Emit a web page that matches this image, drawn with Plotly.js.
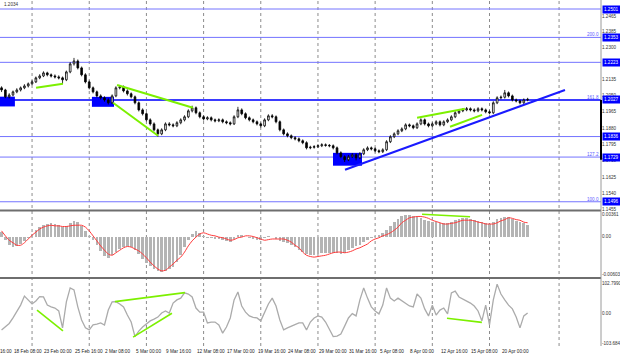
<!DOCTYPE html>
<html>
<head>
<meta charset="utf-8">
<script src="https://cdn.plot.ly/plotly-3.0.1.min.js"></script>
<style>html,body{margin:0;padding:0;background:#fff;}#chart{width:620px;height:357px;}</style>
</head>
<body>
<div id="chart"></div>
<script>
// ---- DATA ----
// bar positions are counted in H4 bars from 18 Feb 08:00; each candle below spans 8 hours
const firstBar = -6;
const barStep = 2;

const openP = [1.2090,1.2079,1.2043,1.2053,1.2069,1.2079,1.2090,1.2100,1.2111,1.2121,
1.2142,1.2152,1.2168,1.2158,1.2152,1.2147,1.2142,1.2132,1.2173,1.2215,
1.2230,1.2194,1.2158,1.2121,1.2090,1.2069,1.2048,1.2038,1.2027,1.2012,
1.2048,1.2090,1.2095,1.2074,1.2059,1.2043,1.2012,1.1975,1.1955,1.1923,
1.1902,1.1871,1.1850,1.1871,1.1902,1.1897,1.1892,1.1908,1.1923,1.1939,
1.1970,1.1986,1.1960,1.1939,1.1928,1.1934,1.1923,1.1918,1.1923,1.1913,
1.1908,1.1902,1.1939,1.1975,1.1955,1.1934,1.1923,1.1913,1.1902,1.1892,
1.1923,1.1944,1.1939,1.1913,1.1871,1.1850,1.1840,1.1830,1.1824,1.1814,
1.1804,1.1777,1.1780,1.1783,1.1788,1.1793,1.1790,1.1788,1.1777,1.1751,
1.1731,1.1715,1.1731,1.1741,1.1725,1.1746,1.1767,1.1777,1.1772,1.1762,
1.1757,1.1767,1.1809,1.1835,1.1850,1.1866,1.1876,1.1897,1.1892,1.1882,
1.1902,1.1923,1.1902,1.1892,1.1902,1.1913,1.1897,1.1913,1.1923,1.1939,
1.1960,1.1970,1.1975,1.1981,1.1975,1.1970,1.1981,1.1975,1.1965,1.1960,
1.2012,1.2038,1.2041,1.2064,1.2048,1.2027,1.2022,1.2012,1.2027];

const highP = [1.2098,1.2085,1.2062,1.2076,1.2088,1.2097,1.2109,1.2118,1.2130,1.2149,
1.2161,1.2176,1.2174,1.2165,1.2160,1.2155,1.2149,1.2180,1.2224,1.2246,
1.2238,1.2201,1.2166,1.2128,1.2097,1.2076,1.2056,1.2046,1.2035,1.2056,
1.2098,1.2105,1.2102,1.2082,1.2066,1.2050,1.2019,1.1983,1.1962,1.1931,
1.1910,1.1878,1.1879,1.1910,1.1911,1.1905,1.1916,1.1931,1.1947,1.1978,
1.1997,1.1993,1.1967,1.1946,1.1942,1.1941,1.1930,1.1931,1.1930,1.1920,
1.1915,1.1947,1.1991,1.1983,1.1962,1.1941,1.1930,1.1920,1.1909,1.1931,
1.1952,1.1953,1.1946,1.1920,1.1878,1.1858,1.1847,1.1838,1.1831,1.1821,
1.1811,1.1788,1.1791,1.1796,1.1801,1.1800,1.1797,1.1795,1.1784,1.1759,
1.1738,1.1740,1.1750,1.1748,1.1755,1.1775,1.1785,1.1784,1.1779,1.1769,
1.1775,1.1817,1.1843,1.1858,1.1874,1.1884,1.1905,1.1904,1.1899,1.1910,
1.1931,1.1930,1.1909,1.1910,1.1921,1.1920,1.1921,1.1931,1.1947,1.1968,
1.1978,1.1984,1.1990,1.1988,1.1983,1.1989,1.1988,1.1982,1.1972,1.2020,
1.2046,1.2050,1.2079,1.2071,1.2055,1.2034,1.2029,1.2035,1.2038];

const lowP = [1.2068,1.2036,1.2035,1.2046,1.2062,1.2071,1.2083,1.2092,1.2104,1.2115,
1.2135,1.2146,1.2150,1.2144,1.2139,1.2134,1.2110,1.2125,1.2166,1.2206,
1.2186,1.2150,1.2113,1.2082,1.2061,1.2040,1.2029,1.2018,1.2003,1.2006,
1.2041,1.2082,1.2066,1.2050,1.2035,1.2004,1.1967,1.1946,1.1915,1.1893,
1.1863,1.1835,1.1843,1.1864,1.1889,1.1884,1.1885,1.1900,1.1915,1.1932,
1.1962,1.1952,1.1931,1.1920,1.1921,1.1915,1.1910,1.1911,1.1905,1.1900,
1.1894,1.1896,1.1932,1.1947,1.1926,1.1915,1.1905,1.1894,1.1883,1.1885,
1.1916,1.1931,1.1905,1.1863,1.1842,1.1832,1.1822,1.1816,1.1806,1.1796,
1.1769,1.1770,1.1773,1.1776,1.1781,1.1783,1.1780,1.1769,1.1743,1.1723,
1.1703,1.1708,1.1724,1.1712,1.1718,1.1739,1.1760,1.1764,1.1754,1.1749,
1.1750,1.1760,1.1802,1.1828,1.1843,1.1859,1.1869,1.1884,1.1874,1.1875,
1.1895,1.1894,1.1884,1.1885,1.1895,1.1889,1.1890,1.1906,1.1916,1.1932,
1.1953,1.1963,1.1968,1.1967,1.1962,1.1963,1.1967,1.1957,1.1952,1.1953,
1.2005,1.2030,1.2034,1.2040,1.2019,1.2014,1.2004,1.2006,1.2020];

const closeP = [1.2079,1.2043,1.2053,1.2069,1.2079,1.2090,1.2100,1.2111,1.2121,1.2142,
1.2152,1.2168,1.2158,1.2152,1.2147,1.2142,1.2132,1.2173,1.2215,1.2230,
1.2194,1.2158,1.2121,1.2090,1.2069,1.2048,1.2038,1.2027,1.2012,1.2048,
1.2090,1.2095,1.2074,1.2059,1.2043,1.2012,1.1975,1.1955,1.1923,1.1902,
1.1871,1.1850,1.1871,1.1902,1.1897,1.1892,1.1908,1.1923,1.1939,1.1970,
1.1986,1.1960,1.1939,1.1928,1.1934,1.1923,1.1918,1.1923,1.1913,1.1908,
1.1902,1.1939,1.1975,1.1955,1.1934,1.1923,1.1913,1.1902,1.1892,1.1923,
1.1944,1.1939,1.1913,1.1871,1.1850,1.1840,1.1830,1.1824,1.1814,1.1804,
1.1777,1.1780,1.1783,1.1788,1.1793,1.1790,1.1788,1.1777,1.1751,1.1731,
1.1715,1.1731,1.1741,1.1725,1.1746,1.1767,1.1777,1.1772,1.1762,1.1757,
1.1767,1.1809,1.1835,1.1850,1.1866,1.1876,1.1897,1.1892,1.1882,1.1902,
1.1923,1.1902,1.1892,1.1902,1.1913,1.1897,1.1913,1.1923,1.1939,1.1960,
1.1970,1.1975,1.1981,1.1975,1.1970,1.1981,1.1975,1.1965,1.1960,1.2012,
1.2038,1.2041,1.2064,1.2048,1.2027,1.2022,1.2012,1.2027,1.2030];

const macdMain = [0.0007,-0.0006,-0.0014,-0.0017,-0.0015,-0.0012,-0.0007,-0.0002,0.0004,0.0010,
0.0015,0.0018,0.0020,0.0022,0.0020,0.0018,0.0015,0.0017,0.0022,0.0025,
0.0023,0.0017,0.0009,0.0001,-0.0006,-0.0014,-0.0023,-0.0031,-0.0034,-0.0030,
-0.0025,-0.0020,-0.0017,-0.0015,-0.0017,-0.0022,-0.0028,-0.0036,-0.0042,-0.0047,
-0.0052,-0.0055,-0.0057,-0.0055,-0.0052,-0.0049,-0.0041,-0.0030,-0.0017,-0.0006,
0.0004,0.0009,0.0006,0.0001,-0.0002,-0.0002,-0.0004,-0.0004,-0.0006,-0.0007,
-0.0009,-0.0004,0.0002,0.0002,-0.0001,-0.0002,-0.0004,-0.0006,-0.0006,-0.0002,
0.0001,-0.0001,-0.0004,-0.0007,-0.0009,-0.0010,-0.0014,-0.0017,-0.0022,-0.0025,
-0.0028,-0.0030,-0.0030,-0.0028,-0.0026,-0.0026,-0.0026,-0.0026,-0.0026,-0.0028,
-0.0026,-0.0022,-0.0018,-0.0015,-0.0014,-0.0009,-0.0006,-0.0002,0.0001,0.0002,
0.0006,0.0010,0.0017,0.0023,0.0028,0.0033,0.0034,0.0034,0.0033,0.0031,
0.0030,0.0026,0.0025,0.0023,0.0023,0.0022,0.0022,0.0022,0.0023,0.0026,
0.0028,0.0030,0.0030,0.0028,0.0026,0.0025,0.0023,0.0022,0.0020,0.0023,
0.0028,0.0030,0.0031,0.0031,0.0028,0.0025,0.0023,0.0022,0.0018];

const macdSignal = [0.0009,0.0001,-0.0006,-0.0010,-0.0014,-0.0014,-0.0010,-0.0004,0.0002,0.0007,
0.0012,0.0015,0.0017,0.0018,0.0017,0.0017,0.0016,0.0016,0.0017,0.0018,
0.0018,0.0018,0.0015,0.0009,0.0001,-0.0007,-0.0015,-0.0022,-0.0028,-0.0030,
-0.0026,-0.0022,-0.0018,-0.0016,-0.0017,-0.0020,-0.0023,-0.0028,-0.0034,-0.0041,
-0.0047,-0.0052,-0.0055,-0.0054,-0.0049,-0.0044,-0.0038,-0.0033,-0.0025,-0.0015,
-0.0007,-0.0001,0.0004,0.0006,0.0004,0.0002,0.0001,-0.0001,-0.0002,-0.0004,
-0.0006,-0.0005,-0.0002,-0.0001,0.0001,0.0001,0.0000,-0.0002,-0.0004,-0.0006,
-0.0005,-0.0004,-0.0004,-0.0004,-0.0004,-0.0006,-0.0009,-0.0014,-0.0018,-0.0025,
-0.0030,-0.0032,-0.0033,-0.0032,-0.0031,-0.0030,-0.0028,-0.0026,-0.0025,-0.0025,
-0.0026,-0.0025,-0.0023,-0.0020,-0.0018,-0.0015,-0.0012,-0.0007,-0.0004,-0.0002,
0.0001,0.0003,0.0006,0.0010,0.0015,0.0022,0.0026,0.0030,0.0031,0.0032,
0.0032,0.0031,0.0029,0.0026,0.0024,0.0022,0.0020,0.0020,0.0021,0.0022,
0.0024,0.0026,0.0026,0.0026,0.0025,0.0023,0.0022,0.0020,0.0020,0.0020,
0.0022,0.0025,0.0027,0.0030,0.0029,0.0027,0.0026,0.0023,0.0022];

const cciValues = [-58,-48,-36,-17,7,27,58,45,31,41,
56,55,27,21,17,7,-51,38,86,79,
21,-24,-51,-58,-41,-38,-34,-41,10,38,
39,31,21,-7,-31,-81,-62,-48,-38,-27,
-21,-14,0,7,0,34,45,51,69,65,
55,17,3,3,-34,-31,-31,-41,-69,-48,
-17,45,72,24,3,-10,-15,-17,-27,0,
31,51,24,-24,-58,-51,-45,-38,-34,-34,
-58,-31,-17,-10,-14,-31,-55,-81,-79,-72,
-45,-17,-2,-10,45,86,51,21,7,-3,
27,86,51,41,51,41,31,24,21,65,
51,14,-10,27,-7,10,17,-3,69,75,
55,48,41,34,24,7,-27,27,-41,45,
99,65,45,27,14,-14,-51,-10,0];

// time axis labels (bar index, text)
const timeBars = [-16,0,16,32,48,64,80,96,112,128,144,160,176,192,208,224,240,256];
const timeLabels = ["15 Feb 16:00","18 Feb 08:00","23 Feb 00:00","25 Feb 16:00","2 Mar 08:00","5 Mar 00:00",
  "9 Mar 16:00","12 Mar 08:00","17 Mar 00:00","19 Mar 16:00","24 Mar 08:00","29 Mar 00:00",
  "31 Mar 16:00","5 Apr 08:00","8 Apr 00:00","12 Apr 16:00","15 Apr 08:00","20 Apr 00:00"];
const weekGridBars = [10,40,70,100,130,160,190,220,250,286.5];

// price scale ticks (1.2215 is hidden under the 1.2223 level box in the reference)
const priceTicks = [1.2465,1.2385,1.2300,1.2135,1.2050,1.1965,1.1880,1.1795,1.1710,1.1625,1.1540,1.1455];
const macdTicks = [0.00361,0,-0.00603];
const macdTickText = ["0.00361","0.00","-0.00603"];
const cciTicks = [102.799,0,-103.684];
const cciTickText = ["102.7990","0.00","-103.684"];

// horizontal levels
const levelPrices = [1.2501,1.2353,1.2223,1.2027,1.1836,1.1729,1.1496];
const levelLabels = ["1.2501","1.2353","1.2223","1.2027","1.1836","1.1729","1.1496"];
const mainLevel = 1.2027;
const fibPrices = [1.2353,1.2027,1.1729,1.1496];
const fibTexts = ["200.0","161.8","127.2","100.0"];

// drawn objects: [bar0, value0, bar1, value1]
const greenPriceLines = [[12.1,1.2090,26.2,1.2111],[54.6,1.2105,94.4,1.1986],[52.5,1.2012,76.1,1.1840],
  [212,1.1934,237.1,1.1981],[229.3,1.1887,246.1,1.1949]];
const trendLine = [174.2,1.1663,289.6,1.2079];
const blueZones = [[-8,1.2044,1,1.1993],[41.4,1.2043,53,1.1991],[167.9,1.1751,183.1,1.1684]];
const greenMacdLines = [[214.6,0.00355,239.8,0.00317]];
const greenCciLines = [[12.6,10,26.2,-61],[53.5,39,90.2,70],[63,-83,83.4,-1],[227.7,-18,246,-32]];
const currentPriceText = "1.2034";
const axisMarkRange = [1.1715,1.2027];

// ---- CHART ----
const xs = openP.map((_, i) => firstBar + i * barStep);
const xRange = [-6.82, 308.5];
const font = "Liberation Sans, Arial, sans-serif";

const traces = [
  {type:'candlestick', x:xs, open:openP, high:highP, low:lowP, close:closeP, xaxis:'x', yaxis:'y',
   increasing:{line:{color:'#000000',width:0.8}, fillcolor:'#ffffff'},
   decreasing:{line:{color:'#000000',width:0.8}, fillcolor:'#000000'},
   whiskerwidth:0, hoverinfo:'skip', showlegend:false},
  {type:'bar', x:xs, y:macdMain, xaxis:'x', yaxis:'y2', width:1.4,
   marker:{color:'#b4b4b4', line:{width:0}}, hoverinfo:'skip', showlegend:false},
  {type:'scatter', mode:'lines', x:xs, y:macdSignal, xaxis:'x', yaxis:'y2',
   line:{color:'#ff3b3b', width:1, shape:'spline', smoothing:0.8}, hoverinfo:'skip', showlegend:false},
  {type:'scatter', mode:'lines', x:xs, y:cciValues, xaxis:'x', yaxis:'y3',
   line:{color:'#ababab', width:1.3}, hoverinfo:'skip', showlegend:false}
];

const shapes = [];
weekGridBars.forEach(b => shapes.push({type:'line', xref:'x', yref:'paper', x0:b, x1:b, y0:0, y1:1,
  line:{color:'#8c8c8c', width:1, dash:'dot'}, layer:'below'}));
levelPrices.forEach(p => shapes.push({type:'line', xref:'paper', yref:'y', x0:0, x1:1, y0:p, y1:p,
  line:{color: p === mainLevel ? '#3b3bff' : '#7474ff', width: p === mainLevel ? 2 : 1}, layer:'below'}));
blueZones.forEach(z => shapes.push({type:'rect', xref:'x', yref:'y', x0:z[0], x1:z[2], y0:z[1], y1:z[3],
  fillcolor:'#0000ff', line:{width:0}, layer:'below'}));
greenPriceLines.forEach(l => shapes.push({type:'line', xref:'x', yref:'y', x0:l[0], y0:l[1], x1:l[2], y1:l[3],
  line:{color:'#7cf000', width:2}}));
shapes.push({type:'line', xref:'x', yref:'y', x0:trendLine[0], y0:trendLine[1], x1:trendLine[2], y1:trendLine[3],
  line:{color:'#1a1aff', width:2}});
greenMacdLines.forEach(l => shapes.push({type:'line', xref:'x', yref:'y2', x0:l[0], y0:l[1], x1:l[2], y1:l[3],
  line:{color:'#7cf000', width:1.6}}));
greenCciLines.forEach(l => shapes.push({type:'line', xref:'x', yref:'y3', x0:l[0], y0:l[1], x1:l[2], y1:l[3],
  line:{color:'#7cf000', width:1.6}}));
// panel separators and price-axis line
[0.39162, 0.19653].forEach(v => shapes.push({type:'line', xref:'paper', yref:'paper', x0:0, x1:1, y0:v, y1:v,
  line:{color:'#6e6e6e', width:2}}));
shapes.push({type:'line', xref:'paper', yref:'paper', x0:1, x1:1, y0:0, y1:1, line:{color:'#9a9a9a', width:1}});
shapes.push({type:'line', xref:'paper', yref:'y', x0:1, x1:1, y0:axisMarkRange[0], y1:axisMarkRange[1],
  line:{color:'#000000', width:2}});

const annotations = [];
const toPaper = b => (b - xRange[0]) / (xRange[1] - xRange[0]);
timeBars.forEach((b, i) => annotations.push({xref:'paper', yref:'paper', x:toPaper(b), y:0, xanchor:'left', yanchor:'top',
  yshift:-2, text:timeLabels[i], showarrow:false, borderpad:0, font:{family:font, size:4.7, color:'#222222'}}));
levelPrices.forEach((p, i) => annotations.push({xref:'paper', yref:'y', x:1, y:p, xanchor:'left', yanchor:'middle',
  xshift:1, text:levelLabels[i], showarrow:false, bgcolor:'#0000ff', borderpad:1, width:19, align:'left',
  font:{family:font, size:4.6, color:'#ffffff'}}));
fibPrices.forEach((p, i) => annotations.push({xref:'paper', yref:'y', x:1, y:p, xanchor:'right', yanchor:'bottom',
  xshift:-1, yshift:-1, text:fibTexts[i], showarrow:false, borderpad:0, font:{family:font, size:4.6, color:'#5c5cff'}}));
annotations.push({xref:'paper', yref:'paper', x:0, y:1, xanchor:'left', yanchor:'top', xshift:3, yshift:-1,
  text:currentPriceText, showarrow:false, borderpad:0, font:{family:font, size:4.6, color:'#333333'}});

const axisCommon = {showgrid:false, zeroline:false, showline:false, ticks:'', side:'right', anchor:'x',
  tickfont:{family:font, size:4.6, color:'#333333'}, fixedrange:true};

const layout = {
  width:620, height:357,
  margin:{l:0, r:19, t:0, b:11, pad:0, autoexpand:false},
  paper_bgcolor:'#ffffff', plot_bgcolor:'#ffffff',
  showlegend:false, bargap:0, boxgap:0.55, boxgroupgap:0,
  xaxis:{domain:[0,1], range:xRange, showticklabels:false, showgrid:false, zeroline:false, showline:false,
    ticks:'', anchor:'y3', rangeslider:{visible:false}, fixedrange:true},
  yaxis:Object.assign({}, axisCommon, {domain:[0.39306,1], range:[1.1453,1.2548], tickvals:priceTicks,
    ticktext:priceTicks.map(v => v.toFixed(4))}),
  yaxis2:Object.assign({}, axisCommon, {domain:[0.19942,0.39017], range:[-0.00648,0.00408], tickvals:macdTicks,
    ticktext:macdTickText}),
  yaxis3:Object.assign({}, axisCommon, {domain:[0,0.19364], range:[-113.2,116.6], tickvals:cciTicks,
    ticktext:cciTickText}),
  shapes:shapes,
  annotations:annotations
};

Plotly.newPlot('chart', traces, layout, {staticPlot:true, displayModeBar:false});
</script>
</body>
</html>
